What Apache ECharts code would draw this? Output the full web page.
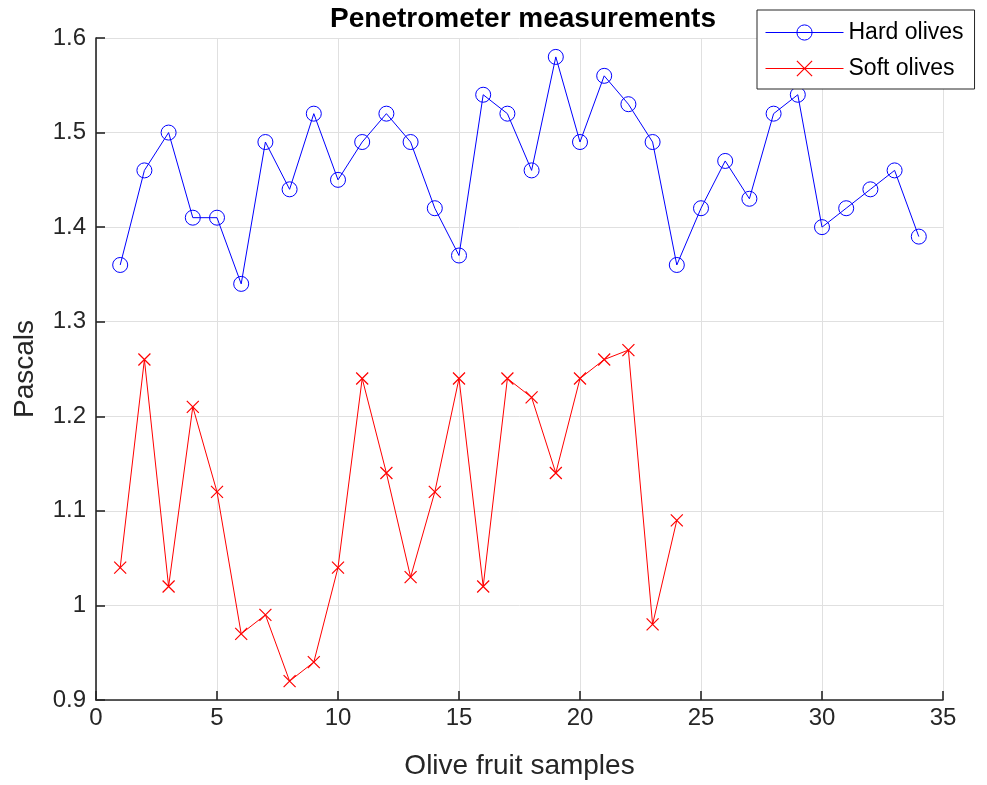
<!DOCTYPE html>
<html>
<head>
<meta charset="utf-8">
<script src="https://cdn.jsdelivr.net/npm/echarts@6/dist/echarts.min.js"></script>
<style>html,body{margin:0;padding:0;background:#fff;}#c{width:987px;height:785px;}</style>
</head>
<body>
<div id="c"></div>
<script>
const hardOlives = [1.36,1.46,1.50,1.41,1.41,1.34,1.49,1.44,1.52,1.45,1.49,1.52,1.49,1.42,1.37,1.54,1.52,1.46,1.58,1.49,1.56,1.53,1.49,1.36,1.42,1.47,1.43,1.52,1.54,1.40,1.42,1.44,1.46,1.39];
const softOlives = [1.04,1.26,1.02,1.21,1.12,0.97,0.99,0.92,0.94,1.04,1.24,1.14,1.03,1.12,1.24,1.02,1.24,1.22,1.14,1.24,1.26,1.27,0.98,1.09];
const seriesNames = ['Hard olives','Soft olives'];
const titleText = 'Penetrometer measurements';
const xLabel = 'Olive fruit samples';
const yLabel = 'Pascals';

const toPairs = arr => arr.map((v,i)=>[i+1,v]);
const chart = echarts.init(document.getElementById('c'), null, {renderer:'canvas'});
const axisColor = '#262626';
const font = '"Liberation Sans", Arial, sans-serif';
const circlePath = 'path://M0,5A5,5 0 1 1 10,5A5,5 0 1 1 0,5Z';
const crossPath = 'path://M0,0L10,10M10,0L0,10';
const blue = '#0000ff', red = '#ff0000';
chart.setOption({
  animation:false,
  backgroundColor:'#fff',
  color:[blue, red],
  title:{text:titleText, left:518, top:0, textAlign:'center',
    textStyle:{fontFamily:font, fontWeight:'bold', fontSize:28, color:'#000'}},
  legend:{
    orient:'vertical', left:757, top:10,
    padding:[11,11,9,8], itemGap:13,
    backgroundColor:'#fff', borderColor:'#262626', borderWidth:1,
    itemWidth:78, itemHeight:19,
    textStyle:{fontFamily:font, fontSize:23, color:'#000'},
    data:[
      {name:seriesNames[0], itemStyle:{color:'none', borderColor:blue, borderWidth:1}, lineStyle:{color:blue, width:1}},
      {name:seriesNames[1], itemStyle:{color:'none', borderColor:red, borderWidth:1.2}, lineStyle:{color:red, width:1}}
    ]
  },
  grid:{left:96, right:44, top:38, bottom:85, containLabel:false},
  xAxis:{type:'value', min:0, max:35, interval:5,
    name:xLabel, nameLocation:'middle', nameGap:52,
    nameTextStyle:{fontFamily:font, fontSize:28, color:axisColor},
    axisLine:{show:true, lineStyle:{color:axisColor, width:1.6}},
    axisTick:{show:true, inside:true, length:9, lineStyle:{color:axisColor, width:1.6}},
    axisLabel:{fontFamily:font, fontSize:24, color:axisColor, margin:6},
    splitLine:{show:true, lineStyle:{color:'#e0e0e0', width:1}}
  },
  yAxis:{type:'value', min:0.9, max:1.6, interval:0.1,
    name:yLabel, nameLocation:'middle', nameGap:57, nameRotate:90,
    nameTextStyle:{fontFamily:font, fontSize:28, color:axisColor},
    axisLine:{show:true, lineStyle:{color:axisColor, width:1.6}},
    axisTick:{show:true, inside:true, length:9, lineStyle:{color:axisColor, width:1.6}},
    axisLabel:{fontFamily:font, fontSize:24, color:axisColor, margin:10,
      formatter:v=>String(Math.round(v*10)/10)},
    splitLine:{show:true, lineStyle:{color:'#e0e0e0', width:1}}
  },
  series:[
    {name:seriesNames[0], type:'line', data:toPairs(hardOlives),
      symbol:circlePath, symbolSize:15, showAllSymbol:true,
      lineStyle:{color:blue, width:1},
      itemStyle:{color:'none', borderColor:blue, borderWidth:1}},
    {name:seriesNames[1], type:'line', data:toPairs(softOlives),
      symbol:crossPath, symbolSize:12, showAllSymbol:true,
      lineStyle:{color:red, width:1},
      itemStyle:{color:'none', borderColor:red, borderWidth:1.2}}
  ]
});
</script>
</body>
</html>
